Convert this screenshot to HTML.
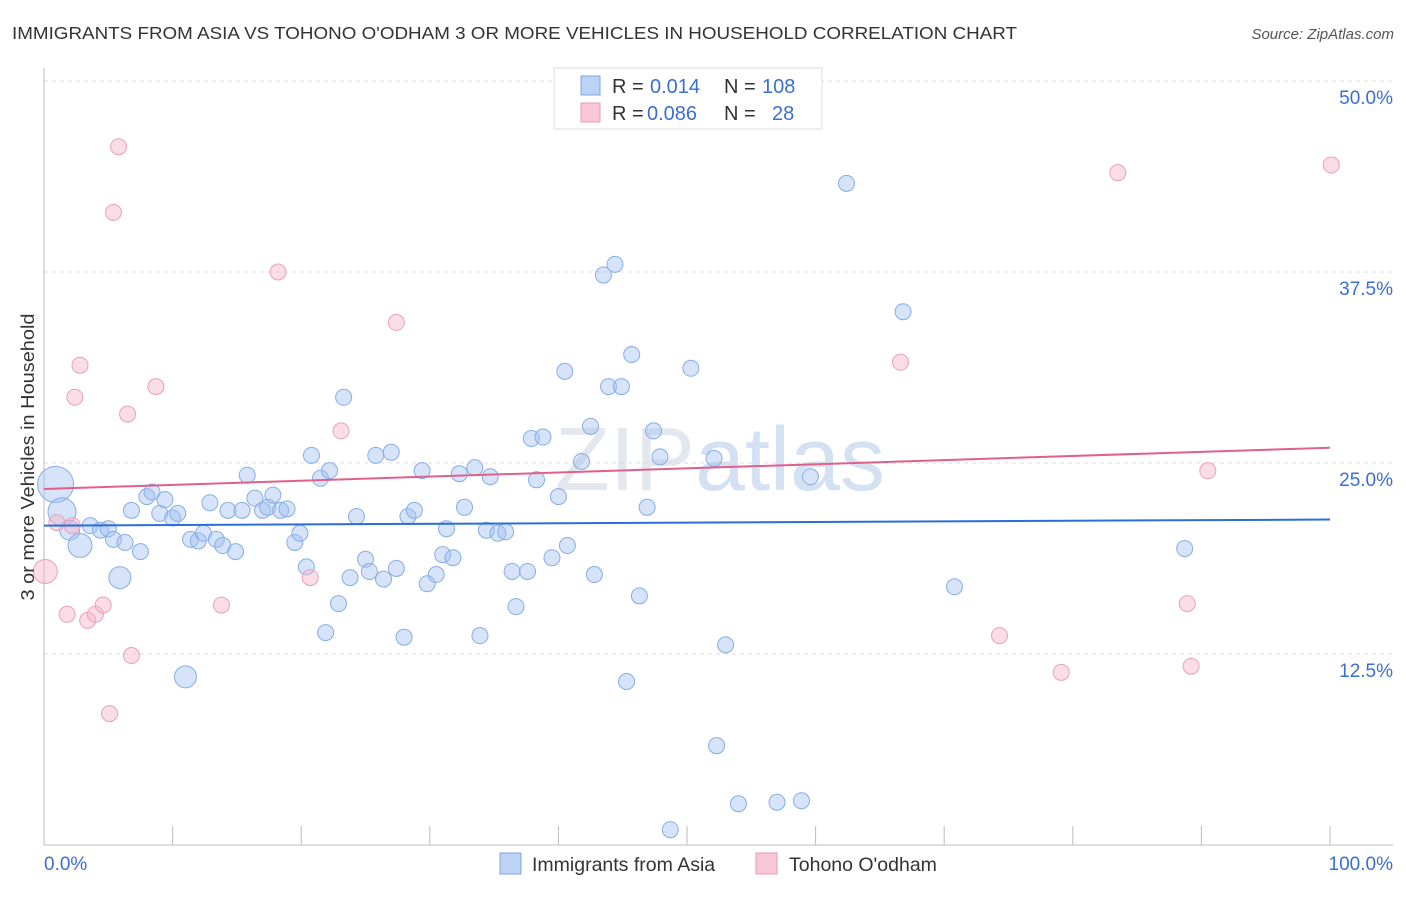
<!DOCTYPE html>
<html><head><meta charset="utf-8"><style>
body{margin:0;background:#fff;font-family:"Liberation Sans",sans-serif;}
svg text{font-family:"Liberation Sans",sans-serif;}
</style></head><body>
<svg id="chart" width="1406" height="892" viewBox="0 0 1406 892" xmlns="http://www.w3.org/2000/svg">
<text x="12" y="39" font-size="17.5" fill="#333" textLength="1005" lengthAdjust="spacingAndGlyphs">IMMIGRANTS FROM ASIA VS TOHONO O'ODHAM 3 OR MORE VEHICLES IN HOUSEHOLD CORRELATION CHART</text>
<text x="1394" y="39" font-size="15" fill="#555" font-style="italic" text-anchor="end">Source: ZipAtlas.com</text>
<text x="720" y="490" font-size="90" fill="#e3e8ef" text-anchor="middle" font-family="Liberation Serif">ZIP<tspan fill="#d3e1f3" font-family="Liberation Sans">atlas</tspan></text>
<g id="grid"></g>
<g id="axes"></g>
<g id="marks"></g>
<g id="lines"></g>
<text transform="translate(34,457) rotate(-90)" font-size="18" fill="#333" text-anchor="middle" textLength="287" lengthAdjust="spacingAndGlyphs">3 or more Vehicles in Household</text>
<g>
<rect x="554" y="68" width="268" height="61" fill="#fff" stroke="#ddd"/>
<rect x="581" y="76" width="19" height="19" fill="#bcd3f5" stroke="#7fa6e0"/>
<rect x="581" y="103" width="19" height="19" fill="#f9c6d6" stroke="#e99ab4"/>
<text x="612" y="93" font-size="20" fill="#333">R = <tspan x="650" fill="#3a6fd0">0.014</tspan><tspan x="724">N = </tspan><tspan x="762" fill="#3a6fd0">108</tspan></text>
<text x="612" y="120" font-size="20" fill="#333">R = <tspan x="647" fill="#3a6fd0">0.086</tspan><tspan x="724">N = </tspan><tspan fill="#3a6fd0" x="772">28</tspan></text>
</g>
<g>
<rect x="500" y="853" width="21" height="21" fill="#bcd3f5" stroke="#7fa6e0"/>
<text x="532" y="871" font-size="19.5" fill="#333">Immigrants from Asia</text>
<rect x="756" y="853" width="21" height="21" fill="#f9c6d6" stroke="#e99ab4"/>
<text x="789" y="871" font-size="19.5" fill="#333">Tohono O'odham</text>
</g>
</svg>
<script>
const blueX=[0.9,1.4,2.0,2.8,3.6,4.4,5.0,5.4,5.9,6.3,6.8,7.5,8.0,8.4,9.0,9.4,10.0,10.4,11.0,11.4,12.0,12.4,12.9,13.4,13.9,14.3,14.9,15.4,15.8,16.4,17.0,17.4,17.8,18.4,18.9,19.5,19.9,20.4,20.8,21.5,21.9,22.2,22.9,23.3,23.8,24.3,25.0,25.3,25.8,26.4,27.0,27.4,28.0,28.3,28.8,29.4,29.8,30.5,31.0,31.3,31.8,32.3,32.7,33.5,33.9,34.4,34.7,35.3,35.9,36.4,36.7,37.6,37.9,38.3,38.8,39.5,40.0,40.5,40.7,41.8,42.5,42.8,43.5,43.9,44.4,44.9,45.3,45.7,46.3,46.9,47.4,47.9,50.3,52.1,52.3,53.0,54.0,57.0,58.9,59.6,62.4,66.8,70.8,88.7,48.7];
const blueY=[23.6,21.8,20.6,19.6,20.9,20.6,20.7,20.0,17.5,19.8,21.9,19.2,22.8,23.1,21.7,22.6,21.4,21.7,11.0,20.0,19.9,20.4,22.4,20.0,19.6,21.9,19.2,21.9,24.2,22.7,21.9,22.1,22.9,21.9,22.0,19.8,20.4,18.2,25.5,24.0,13.9,24.5,15.8,29.3,17.5,21.5,18.7,17.9,25.5,17.4,25.7,18.1,13.6,21.5,21.9,24.5,17.1,17.7,19.0,20.7,18.8,24.3,22.1,24.7,13.7,20.6,24.1,20.4,20.5,17.9,15.6,17.9,26.6,23.9,26.7,18.8,22.8,31.0,19.6,25.1,27.4,17.7,37.3,30.0,38.0,30.0,10.7,32.1,16.3,22.1,27.1,25.4,31.2,25.3,6.5,13.1,2.7,2.8,2.9,24.1,43.3,34.9,16.9,19.4,1.0];
const pinkX=[0.1,1.0,1.8,2.2,2.4,2.8,3.4,4.0,4.6,5.1,5.4,5.8,6.5,6.8,8.7,13.8,18.2,20.7,23.1,27.4,66.6,74.3,79.1,83.5,88.9,89.2,90.5,100.1];
const pinkY=[17.9,21.1,15.1,20.9,29.3,31.4,14.7,15.1,15.7,8.6,41.4,45.7,28.2,12.4,30.0,15.7,37.5,17.5,27.1,34.2,31.6,13.7,11.3,44.0,15.8,11.7,24.5,44.5];
const blueTrend=[20.9,21.3];
const pinkTrend=[23.3,26.0];
const yTicks=[12.5,25.0,37.5,50.0];
const yTickLabels=["12.5%","25.0%","37.5%","50.0%"];
const xTicks=[0,10,20,30,40,50,60,70,80,90,100];

const NS="http://www.w3.org/2000/svg";
const X0=44,X1=1330,Y0=845,YS=15.28;
function sx(v){return X0+(X1-X0)*v/100;}
function sy(v){return Y0-v*YS;}
function mk(tag,attrs,parent){const e=document.createElementNS(NS,tag);for(const k in attrs)e.setAttribute(k,attrs[k]);document.getElementById(parent).appendChild(e);return e;}

yTicks.forEach((t,i)=>{
  const g=mk('line',{x1:44,x2:1393,y1:sy(t),y2:sy(t),stroke:'#ddd','stroke-dasharray':'4,4'},'grid');
  
  
  const l=mk('text',{x:1393,y:sy(t)+23,'font-size':19,fill:'#3a6fd0','text-anchor':'end'},'axes');
  l.textContent=yTickLabels[i];
  
  
});
const ax=mk('line',{x1:44,x2:1393,y1:845,y2:845,stroke:'#bbb'},'axes');


const ay=mk('line',{x1:44,x2:44,y1:68,y2:845,stroke:'#bbb'},'axes');


xTicks.forEach(t=>{
  const k=mk('line',{x1:sx(t),x2:sx(t),y1:826,y2:845,stroke:'#bbb'},'axes');
  
  
});
const xl0=mk('text',{x:44,y:870,'font-size':19,fill:'#3a6fd0'},'axes');xl0.textContent='0.0%';


const xl1=mk('text',{x:1393,y:870,'font-size':19,fill:'#3a6fd0','text-anchor':'end'},'axes');xl1.textContent='100.0%';



const bigBlue={0:18,1:14,3:12,8:11,18:11,2:10};
blueX.forEach((v,i)=>{
  const c=mk('circle',{cx:sx(v),cy:sy(blueY[i]),r:bigBlue[i]||8,fill:'rgba(164,194,240,0.45)',stroke:'#86aee6','stroke-width':1},'marks');
  
  
});
pinkX.forEach((v,i)=>{
  const c=mk('circle',{cx:sx(v),cy:sy(pinkY[i]),r:i===0?12:8,fill:'rgba(245,180,200,0.45)',stroke:'#eaa0ba','stroke-width':1},'marks');
  
  
});
const bl=mk('line',{x1:sx(0),x2:sx(100),y1:sy(blueTrend[0]),y2:sy(blueTrend[1]),stroke:'#2a6fd6','stroke-width':2},'lines');


const pl=mk('line',{x1:sx(0),x2:sx(100),y1:sy(pinkTrend[0]),y2:sy(pinkTrend[1]),stroke:'#e0608c','stroke-width':2},'lines');


</script>
</body></html>
